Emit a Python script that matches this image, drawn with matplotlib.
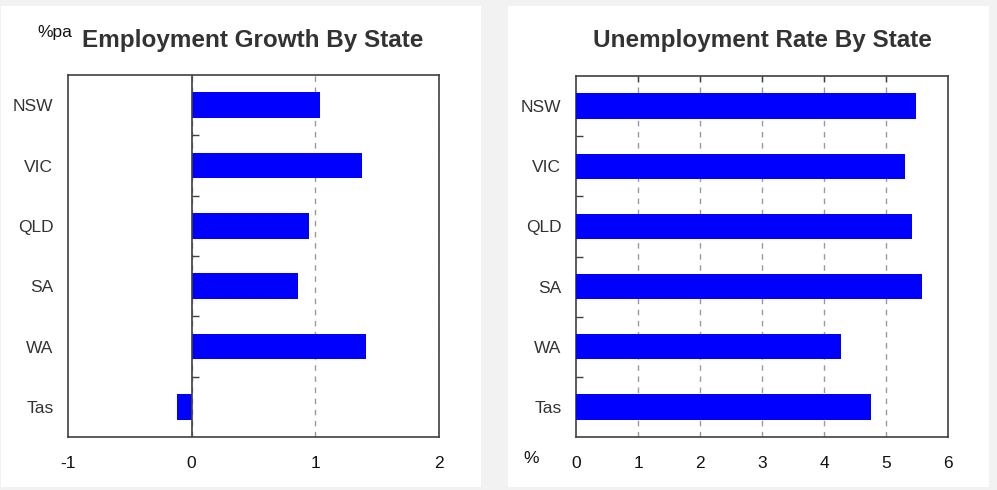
import matplotlib

matplotlib.use("Agg")
import matplotlib.pyplot as plt
import numpy as np
from matplotlib.patches import Rectangle

plt.rcParams["font.family"] = ["Liberation Sans", "DejaVu Sans"]

states = ["NSW", "VIC", "QLD", "SA", "WA", "Tas"]
employment_growth = [1.04, 1.38, 0.95, 0.86, 1.41, -0.12]
unemployment_rate = [5.48, 5.31, 5.42, 5.58, 4.27, 4.76]
growth_ticks = [-1, 0, 1, 2]
rate_ticks = [0, 1, 2, 3, 4, 5, 6]

W, H = 997, 490
BAR_BLUE = "#0000ff"
EDGE = "#404040"
GRID = "#9a9a9a"
TEXT = "#333333"


def px_axes(fig, x0, y0, x1, y1):
    return fig.add_axes([x0 / W, 1 - y1 / H, (x1 - x0) / W, (y1 - y0) / H])


def draw_bars(ax, values, ticks):
    pos = np.arange(len(states))
    ax.barh(pos, values, height=0.42, color=BAR_BLUE, zorder=3)
    ax.set_ylim(len(states) - 0.5, -0.5)
    ax.set_xlim(ticks[0], ticks[-1])
    ax.set_xticks(ticks)
    ax.set_xticklabels([str(t) for t in ticks], fontsize=12.5, color="#111111")
    ax.set_yticks(pos)
    ax.set_yticklabels(states, fontsize=12.5, color=TEXT)
    ax.tick_params(axis="y", length=0, pad=10.5)
    ax.tick_params(axis="x", length=0, pad=13.5)
    for t in ticks[1:]:
        ax.axvline(t, color=GRID, linestyle=(0, (4, 4)), linewidth=1, zorder=1)
    for sp in ax.spines.values():
        sp.set_color(EDGE)
        sp.set_linewidth(1.2)
        sp.set_zorder(2)
    # boundaries between categories, used for the small inward ticks
    return pos[:-1] + 0.5


fig = plt.figure(figsize=(W / 100, H / 100), dpi=100)
fig.patch.set_facecolor("#f2f2f2")
for x0, x1 in [(1, 481), (508, 989)]:
    fig.patches.append(Rectangle((x0 / W, 1 - 487 / H), (x1 - x0) / W, (487 - 6) / H,
                                 transform=fig.transFigure, facecolor="white",
                                 edgecolor="none", zorder=-1))

# left panel: employment growth
ax1 = px_axes(fig, 68, 75, 439, 437)
bounds = draw_bars(ax1, employment_growth, growth_ticks)
ax1.axvline(0, color=EDGE, linewidth=1.2, zorder=4)
ax1.plot(np.zeros(len(bounds)), bounds, linestyle="none", marker=1,
         markersize=5, color=EDGE, zorder=4)
fig.text(253 / W, 1 - 40 / H, "Employment Growth By State", ha="center", va="center",
         fontsize=17.5, fontweight="bold", color=TEXT)
fig.text(55 / W, 1 - 33 / H, "%pa", ha="center", va="center", fontsize=12.5, color="#111111")

# right panel: unemployment rate
ax2 = px_axes(fig, 576, 76, 948, 437)
bounds = draw_bars(ax2, unemployment_rate, rate_ticks)
ax2.plot(np.zeros(len(bounds)), bounds, linestyle="none", marker=1,
         markersize=5, color=EDGE, zorder=4, clip_on=False)
ax2.plot(rate_ticks[1:-1], np.full(len(rate_ticks) - 2, -0.5), linestyle="none", marker=3,
         markersize=4, color=EDGE, zorder=4, clip_on=False)
fig.text(762 / W, 1 - 40 / H, "Unemployment Rate By State", ha="center", va="center",
         fontsize=17.5, fontweight="bold", color=TEXT)
fig.text(531 / W, 1 - 458 / H, "%", ha="center", va="center", fontsize=12.5, color="#111111")

fig.savefig("out.png", dpi=100, facecolor=fig.get_facecolor())
